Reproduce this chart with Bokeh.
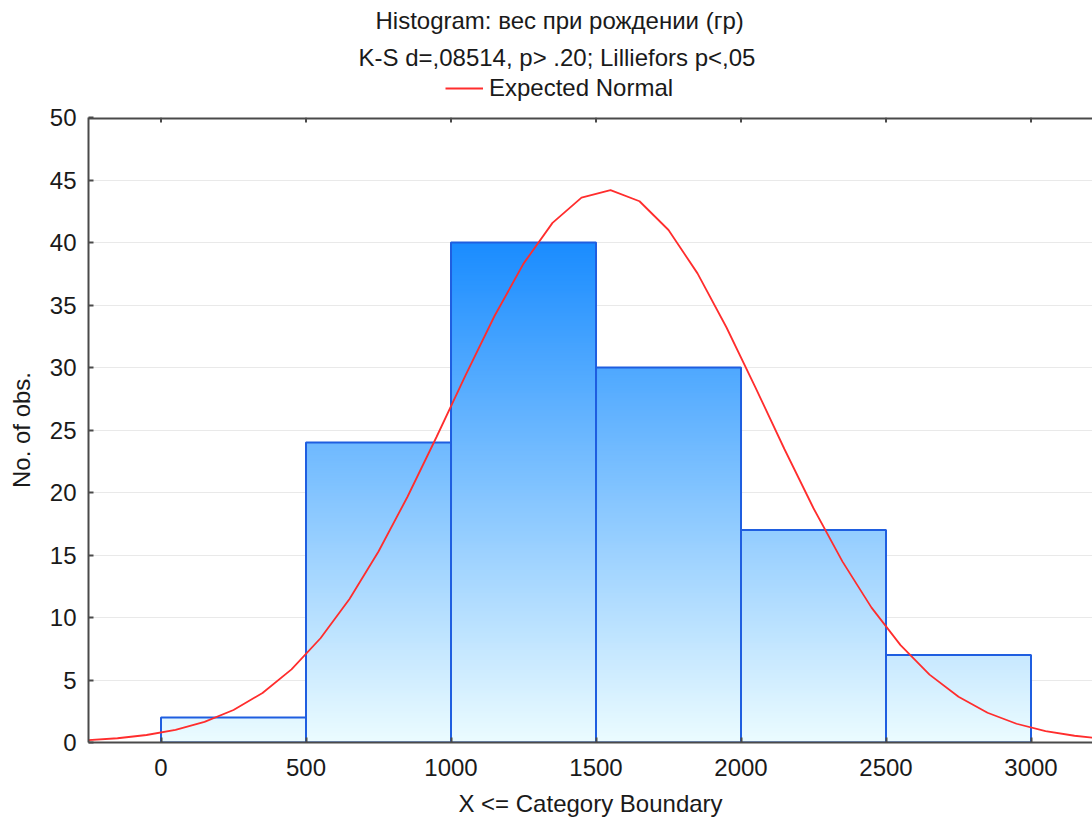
import math
from bokeh.plotting import figure
from bokeh.layouts import column
from bokeh.models import Range1d, FixedTicker, Legend, LegendItem, Title
from bokeh.embed import file_html
from bokeh.resources import INLINE

# ---------------- data ----------------
bin_left = [0, 500, 1000, 1500, 2000, 2500]
bin_right = [500, 1000, 1500, 2000, 2500, 3000]
counts = [2, 24, 40, 30, 17, 7]

curve_x = [-250, -150, -50, 50, 150, 250, 350, 450, 550, 650, 750, 850, 950, 1050,
           1150, 1250, 1350, 1450, 1550, 1650, 1750, 1850, 1950, 2050, 2150, 2250,
           2350, 2450, 2550, 2650, 2750, 2850, 2950, 3050, 3150, 3250]
curve_y = [0.19, 0.34, 0.60, 1.01, 1.65, 2.60, 3.96, 5.85, 8.34, 11.48, 15.28, 19.66,
           24.44, 29.37, 34.12, 38.31, 41.57, 43.59, 44.19, 43.30, 41.00, 37.53, 33.20,
           28.39, 23.46, 18.74, 14.47, 10.79, 7.79, 5.43, 3.66, 2.38, 1.50, 0.91, 0.54,
           0.30]

x_ticks = [0, 500, 1000, 1500, 2000, 2500, 3000]
y_ticks = [0, 5, 10, 15, 20, 25, 30, 35, 40, 45, 50]

title_1 = "Histogram: вес при рождении (гр)"
title_2 = "K-S d=,08514, p> .20; Lilliefors p<,05"
legend_label = "Expected Normal"
x_label = "X <= Category Boundary"
y_label = "No. of obs."

# ---------------- style ----------------
FONT = "Liberation Sans"
FS = "24px"
TXT = "#1a1a1a"
AX = "#4a4a4a"
RED = "#ff2d2d"
c_low = (236, 252, 255)
c_high = (26, 140, 255)
grad_top = 40.0
W = 1092
HEAD_H = 103
MAIN_H = 825 - HEAD_H


def grad(y):
    t = max(0.0, min(1.0, y / grad_top))
    r = round(c_low[0] + (c_high[0] - c_low[0]) * t)
    g = round(c_low[1] + (c_high[1] - c_low[1]) * t)
    b = round(c_low[2] + (c_high[2] - c_low[2]) * t)
    return "#%02x%02x%02x" % (r, g, b)


# ---------------- header: two title lines + legend ----------------
head = figure(width=W, height=HEAD_H, output_backend="svg", toolbar_location=None,
              x_range=Range1d(0, 1), y_range=Range1d(0, 1),
              x_axis_type=None, y_axis_type=None,
              min_border_left=88, min_border_right=0, min_border_top=0,
              min_border_bottom=0)
head.outline_line_color = None
head.grid.visible = False
head.add_layout(Title(text=title_2, align="left", offset=270, standoff=8, text_font=FONT,
                      text_font_size=FS, text_font_style="normal", text_color=TXT),
                "above")
head.add_layout(Title(text=title_1, align="left", offset=287, standoff=8, text_font=FONT,
                      text_font_size=FS, text_font_style="normal", text_color=TXT),
                "above")
leg_r = head.line(x=[float("nan")] * 2, y=[float("nan")] * 2, line_color=RED,
                  line_width=1.8)
legend = Legend(items=[LegendItem(label=legend_label, renderers=[leg_r])],
                location=(357, 1), glyph_width=38, glyph_height=20, label_standoff=6,
                padding=0, margin=0, spacing=0, border_line_color=None,
                background_fill_alpha=0, label_text_font=FONT, label_text_font_size=FS,
                label_text_color=TXT)
head.add_layout(legend, "center")

# ---------------- main plot ----------------
p = figure(width=W, height=MAIN_H, output_backend="svg", toolbar_location=None,
           x_range=Range1d(-250, 3212), y_range=Range1d(0, 50),
           min_border_left=88, min_border_right=0, min_border_top=14,
           min_border_bottom=83)
p.outline_line_color = None
p.background_fill_color = "white"
p.border_fill_color = "white"

# gradient strips
step = 0.2
sl, sr, sb, st, sc = [], [], [], [], []
for l, r, c in zip(bin_left, bin_right, counts):
    y = 0.0
    while y < c - 1e-9:
        top = min(c, y + step)
        sl.append(l); sr.append(r); sb.append(y); st.append(top)
        sc.append(grad((y + top) / 2))
        y = top
p.quad(left=sl, right=sr, bottom=sb, top=st, fill_color=sc, line_color=sc, line_width=1)

# bar outlines
p.quad(left=bin_left, right=bin_right, bottom=[0] * len(counts), top=counts,
       fill_color=None, line_color="#1f5ee0", line_width=2)

curve = p.line(curve_x, curve_y, line_color=RED, line_width=1.8)

# top frame line and inside tick marks
p.hspan(y=[y_ticks[-1]], line_color=AX, line_width=4)
p.ray(x=x_ticks, y=[y_ticks[-1]] * len(x_ticks), length=5, length_units="screen",
      angle=-math.pi / 2, line_color=AX, line_width=2)

# axes
p.xaxis.ticker = FixedTicker(ticks=x_ticks)
p.yaxis.ticker = FixedTicker(ticks=y_ticks)
for ax in (p.xaxis[0], p.yaxis[0]):
    ax.major_tick_in = 5
    ax.major_tick_out = 0
    ax.minor_tick_line_color = None
    ax.axis_line_color = AX
    ax.axis_line_width = 2
    ax.major_tick_line_color = AX
    ax.major_tick_line_width = 2
    ax.major_label_text_font = FONT
    ax.major_label_text_font_size = FS
    ax.major_label_text_color = TXT
    ax.axis_label_text_font = FONT
    ax.axis_label_text_font_size = FS
    ax.axis_label_text_color = TXT
    ax.axis_label_text_font_style = "normal"
p.xaxis.axis_label = x_label
p.yaxis.axis_label = y_label
p.xaxis.major_label_standoff = 16
p.xaxis.axis_label_standoff = 11
p.yaxis.major_label_standoff = 12
p.yaxis.axis_label_standoff = 12

p.xgrid.grid_line_color = None
p.ygrid.ticker = FixedTicker(ticks=y_ticks)
p.ygrid.grid_line_color = "#e9e9e9"
p.ygrid.grid_line_width = 1

layout = column(head, p, spacing=0)
open("out.html", "w").write(file_html(layout, INLINE))
